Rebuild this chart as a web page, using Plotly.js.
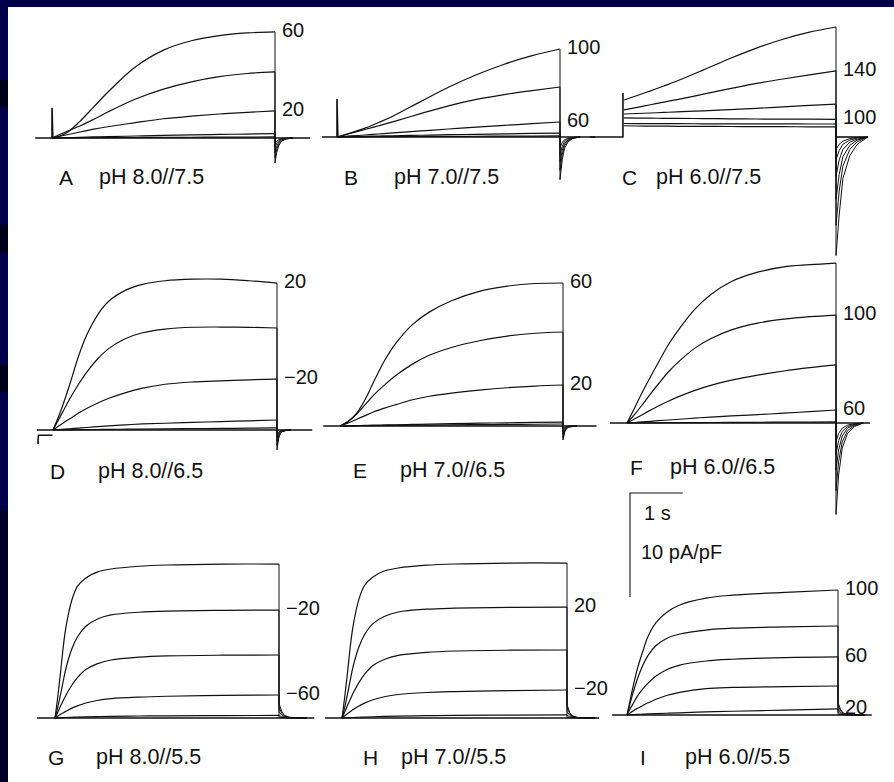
<!DOCTYPE html>
<html><head><meta charset="utf-8">
<script src="https://cdn.plot.ly/plotly-3.0.1.min.js"></script>
<style>html,body{margin:0;padding:0;background:#fff;overflow:hidden}#chart{width:894px;height:782px}</style>
</head><body><div id="chart"></div>
<script>
// ===================== DATA (time in s, current in pA/pF) =====================
const panelLetters = ["A","B","C","D","E","F","G","H","I"];
const panelTitles = ["pH 8.0//7.5","pH 7.0//7.5","pH 6.0//7.5","pH 8.0//6.5","pH 7.0//6.5","pH 6.0//6.5","pH 8.0//5.5","pH 7.0//5.5","pH 6.0//5.5"];

const timeSlow = [0,0.25,0.5,0.75,1,1.5,2,2.5,3,3.5,4];
const timeMed  = [0,0.15,0.3,0.45,0.6,0.8,1,1.3,1.6,2,2.5,3,3.5,4];
const timeFast = [0,0.05,0.1,0.15,0.2,0.3,0.4,0.55,0.75,1,1.5,2,3,4];
const pulseEnd = 4;

// tail time points (s after the end of the pulse)
const tailTimeA = [0,0.03,0.07,0.12,0.2,0.32];
const tailTimeB = [0,0.04,0.08,0.14,0.22,0.36];
const tailTimeC = [0,0.06,0.13,0.26,0.4,0.6];
const tailTimeShort = [0,0.03,0.06,0.1,0.16,0.25];
const tailTimeF = [0,0.05,0.12,0.22,0.35,0.52];
const tailTimeFast = [0,0.05,0.1,0.18,0.3,0.5];

// ---- A  pH 8.0//7.5
const currentA = [
 [0,0.45,1.6,3.0,4.4,6.85,8.45,9.35,9.85,10.1,10.2],
 [0,0.6,1.15,1.8,2.5,3.75,4.7,5.4,5.9,6.2,6.35],
 [0,0.29,0.58,0.85,1.08,1.48,1.85,2.1,2.31,2.47,2.6],
 [0,0.03,0.06,0.1,0.13,0.19,0.25,0.3,0.34,0.38,0.42],
 [0,0.01,0.02,0.03,0.04,0.05,0.06,0.07,0.08,0.09,0.1]];
const tailA = [[-2.4,-1.4,-0.7,-0.3,-0.1,0],[-1.9,-1.1,-0.55,-0.25,-0.08,0],[-1.4,-0.8,-0.4,-0.18,-0.05,0],[-0.9,-0.5,-0.25,-0.1,-0.03,0],[-0.5,-0.3,-0.15,-0.06,-0.02,0]];
const baseTimeA = [-0.3,0,0,0.015,4.63];
const baseCurA  = [0,0,2.9,0,0];
const labelsA = ["60","","20","",""];

// ---- B  pH 7.0//7.5
const currentB = [
 [0,0.4,0.85,1.4,2.0,3.4,4.78,5.98,7.0,7.83,8.46],
 [0,0.36,0.72,1.08,1.45,2.25,3.0,3.62,4.08,4.46,4.81],
 [0,0.1,0.19,0.29,0.39,0.58,0.77,0.95,1.12,1.28,1.44],
 [0,0.03,0.06,0.09,0.12,0.17,0.22,0.26,0.3,0.34,0.38],
 [0,0.01,0.02,0.03,0.04,0.05,0.06,0.07,0.08,0.09,0.1]];
const tailB = [[-4.1,-2.2,-1.1,-0.5,-0.15,0],[-3.2,-1.7,-0.85,-0.4,-0.12,0],[-2.4,-1.3,-0.65,-0.3,-0.1,0],[-1.7,-0.9,-0.45,-0.2,-0.06,0],[-1.0,-0.55,-0.27,-0.12,-0.04,0]];
const baseTimeB = [-0.27,0,0,0.015,4.63];
const baseCurB  = [0,0,3.65,0,0];
const labelsB = ["100","","60","",""];

// ---- C  pH 6.0//7.5
const currentC = [
 [3.56,3.99,4.44,4.9,5.38,6.45,7.55,8.55,9.4,10.08,10.58],
 [2.6,2.85,3.1,3.36,3.6,4.12,4.65,5.16,5.58,5.97,6.35],
 [2.21,2.26,2.31,2.36,2.42,2.52,2.63,2.76,2.9,3.04,3.17],
 [1.83,1.82,1.81,1.8,1.79,1.77,1.75,1.73,1.72,1.71,1.7],
 [1.3,1.29,1.29,1.28,1.28,1.27,1.27,1.26,1.26,1.25,1.25],
 [1.08,1.06,1.05,1.04,1.03,1.02,1.01,1.0,0.99,0.98,0.97]];
const tailC = [[-11.4,-7.5,-4.0,-1.8,-0.7,0],[-8.5,-5.2,-2.8,-1.2,-0.45,0],[-6.0,-3.6,-1.9,-0.8,-0.3,0],[-3.8,-2.2,-1.2,-0.5,-0.2,0],[-2.2,-1.3,-0.7,-0.3,-0.1,0],[-1.2,-0.7,-0.4,-0.15,-0.05,0]];
const baseTimeC = [-0.64,-0.02,-0.02,null,4.0,4.6];
const baseCurC  = [0,0,4.23,null,0,0];
const labelsC = ["","140","","100","",""];

// ---- D  pH 8.0//6.5
const currentD = [
 [0,2.0,4.4,7.0,9.1,11.1,12.4,13.45,14.0,14.35,14.5,14.5,14.35,14.13],
 [0,1.5,3.0,4.35,5.55,6.85,7.85,8.8,9.35,9.7,9.88,9.9,9.87,9.81],
 [0,0.55,1.08,1.6,2.07,2.6,3.05,3.6,4.02,4.4,4.62,4.73,4.82,4.9],
 [0,0.06,0.12,0.18,0.24,0.32,0.4,0.5,0.58,0.65,0.73,0.81,0.88,0.96],
 [0,0.01,0.02,0.03,0.04,0.05,0.06,0.08,0.09,0.11,0.13,0.15,0.18,0.2]];
const tailD = [[-1.9,-0.8,-0.35,-0.15,-0.05,0],[-1.5,-0.65,-0.3,-0.12,-0.04,0],[-1.1,-0.5,-0.22,-0.09,-0.03,0],[-0.7,-0.3,-0.14,-0.06,-0.02,0],[-0.4,-0.18,-0.08,-0.03,-0.01,0]];
const baseTimeD = [-0.29,4.63,null,-0.01,-0.26,-0.27,-0.25];
const baseCurD  = [0,0,null,-0.5,-0.5,-1.3,-1.2];
const labelsD = ["20","","\u221220","",""];

// ---- E  pH 7.0//6.5
const currentE = [
 [0,0.45,1.25,2.55,4.2,6.3,7.95,9.75,10.95,12.05,12.95,13.45,13.7,13.75],
 [0,0.45,1.15,2.05,2.95,3.95,4.85,5.95,6.8,7.55,8.2,8.65,8.92,9.04],
 [0,0.3,0.65,1.0,1.35,1.72,2.05,2.52,2.86,3.16,3.45,3.68,3.84,3.94],
 [0,0.02,0.04,0.06,0.08,0.1,0.12,0.15,0.18,0.22,0.27,0.31,0.35,0.38],
 [0,0.01,0.02,0.03,0.04,0.05,0.06,0.07,0.09,0.11,0.13,0.15,0.17,0.19]];
const tailE = [[-1.35,-0.6,-0.27,-0.11,-0.04,0],[-1.1,-0.5,-0.22,-0.09,-0.03,0],[-0.8,-0.36,-0.16,-0.07,-0.02,0],[-0.5,-0.22,-0.1,-0.04,-0.01,0],[-0.3,-0.13,-0.06,-0.02,-0.01,0]];
const baseTimeE = [-0.3,4.6];
const baseCurE  = [0,0];
const labelsE = ["60","","20","",""];

// ---- F  pH 6.0//6.5
const currentF = [
 [0,1.5,3.02,4.45,5.82,7.6,9.06,10.95,12.34,13.6,14.5,15.02,15.22,15.38],
 [0,0.85,1.8,2.8,3.75,4.95,5.95,7.2,8.1,8.95,9.6,9.98,10.22,10.38],
 [0,0.4,0.82,1.24,1.64,2.12,2.56,3.14,3.62,4.12,4.6,5.0,5.32,5.58],
 [0,0.05,0.11,0.16,0.22,0.29,0.36,0.47,0.57,0.68,0.81,0.94,1.1,1.25],
 [0,0.01,0.01,0.02,0.02,0.03,0.03,0.04,0.05,0.06,0.07,0.08,0.09,0.1]];
const tailF = [[-8.8,-5.0,-2.4,-1.0,-0.35,0],[-6.5,-3.7,-1.8,-0.75,-0.25,0],[-4.5,-2.6,-1.25,-0.5,-0.18,0],[-3.0,-1.7,-0.8,-0.35,-0.12,0],[-1.8,-1.0,-0.5,-0.2,-0.07,0]];
const baseTimeF = [-0.33,4.65];
const baseCurF  = [0,0];
const labelsF = ["","100","","60",""];

// ---- G  pH 8.0//5.5
const currentG = [
 [0,2.07,4.44,6.96,8.88,11.32,12.65,13.47,14.03,14.33,14.59,14.71,14.8,14.8],
 [0,1.04,2.28,3.63,4.88,6.64,7.79,8.82,9.5,9.91,10.17,10.28,10.35,10.38],
 [0,0.55,1.15,1.7,2.24,3.15,3.88,4.67,5.21,5.58,5.85,5.97,6.04,6.06],
 [0,0.18,0.35,0.51,0.66,0.95,1.17,1.44,1.68,1.86,2.01,2.09,2.17,2.21],
 [0,0.01,0.02,0.04,0.05,0.07,0.09,0.11,0.14,0.16,0.19,0.21,0.23,0.25]];
const tailG = [[1.4,0.6,0.25,0.08,0.02,0],[1.0,0.45,0.18,0.06,0.02,0],[0.6,0.27,0.11,0.04,0.01,0],[0.25,0.11,0.05,0.02,0,0],[0.05,0.02,0.01,0,0,0]];
const baseTimeG = [-0.32,4.63];
const baseCurG  = [0,0];
const labelsG = ["","\u221220","","\u221260",""];

// ---- H  pH 7.0//5.5
const currentH = [
 [0,2.09,4.47,7.0,8.94,11.4,12.74,13.56,14.13,14.42,14.69,14.81,14.9,14.9],
 [0,1.07,2.35,3.73,5.01,6.83,8.0,9.07,9.76,10.19,10.46,10.56,10.64,10.67],
 [0,0.59,1.24,1.83,2.42,3.4,4.19,5.04,5.62,6.02,6.31,6.44,6.52,6.54],
 [0,0.22,0.43,0.62,0.81,1.16,1.43,1.75,2.04,2.26,2.45,2.54,2.64,2.69],
 [0,0.01,0.02,0.04,0.05,0.07,0.09,0.12,0.15,0.18,0.22,0.25,0.28,0.3]];
const tailH = [[1.3,0.5,0.2,0.06,0.02,0],[1.0,0.42,0.16,0.05,0.01,0],[0.6,0.26,0.1,0.03,0.01,0],[0.26,0.11,0.05,0.02,0,0],[0.05,0.02,0.01,0,0,0]];
const baseTimeH = [-0.3,4.57];
const baseCurH  = [0,0];
const labelsH = ["","20","","\u221220",""];

// ---- I  pH 6.0//5.5
const currentI = [
 [0,1.2,2.4,3.49,4.51,6.13,7.57,8.89,9.86,10.58,11.24,11.52,11.8,12.02],
 [0,0.94,1.88,2.74,3.51,4.79,5.74,6.68,7.36,7.79,8.17,8.35,8.47,8.56],
 [0,0.5,0.95,1.4,1.84,2.51,3.07,3.74,4.35,4.8,5.19,5.36,5.52,5.58],
 [0,0.17,0.33,0.5,0.64,0.92,1.17,1.51,1.87,2.18,2.54,2.65,2.73,2.79],
 [0,0.02,0.03,0.05,0.06,0.08,0.1,0.13,0.17,0.21,0.3,0.36,0.47,0.58]];
const tailI = [[1.2,0.5,0.2,0.06,0.02,0],[0.9,0.38,0.15,0.05,0.01,0],[0.55,0.23,0.09,0.03,0.01,0],[0.28,0.12,0.05,0.02,0,0],[0.06,0.03,0.01,0,0,0]];
const baseTimeI = [-0.28,4.64];
const baseCurI  = [0,0];
const labelsI = ["100","","60","","20"];

// scale bar
const scaleBarTime = 1;      // s
const scaleBarCurrent = 10;  // pA/pF
const scaleBarTexts = ["1 s","10 pA/pF"];

// ===================== LAYOUT (pixel placement) =====================
const W = 894, H = 782, YS = 10.4; // px per pA/pF
const panels = [
 {t:timeSlow, cur:currentA, tail:tailA, tt:tailTimeA, bt:baseTimeA, bc:baseCurA, lab:labelsA, x0:52,  pxs:55.75, base:138, cap:[66,97,177]},
 {t:timeSlow, cur:currentB, tail:tailB, tt:tailTimeB, bt:baseTimeB, bc:baseCurB, lab:labelsB, x0:337, pxs:55.75, base:137, cap:[351,392,177]},
 {t:timeSlow, cur:currentC, tail:tailC, tt:tailTimeC, bt:baseTimeC, bc:baseCurC, lab:labelsC, x0:624, pxs:53,    base:137, cap:[629,654,177]},
 {t:timeMed,  cur:currentD, tail:tailD, tt:tailTimeShort, bt:baseTimeD, bc:baseCurD, lab:labelsD, x0:53,  pxs:56,    base:430, cap:[58,96,471]},
 {t:timeMed,  cur:currentE, tail:tailE, tt:tailTimeShort, bt:baseTimeE, bc:baseCurE, lab:labelsE, x0:340, pxs:55.75, base:426, cap:[360,398,470]},
 {t:timeMed,  cur:currentF, tail:tailF, tt:tailTimeF, bt:baseTimeF, bc:baseCurF, lab:labelsF, x0:627, pxs:52.25, base:423, cap:[636,668,467]},
 {t:timeFast, cur:currentG, tail:tailG, tt:tailTimeFast, bt:baseTimeG, bc:baseCurG, lab:labelsG, x0:55,  pxs:56,    base:718, cap:[56,94,757]},
 {t:timeFast, cur:currentH, tail:tailH, tt:tailTimeFast, bt:baseTimeH, bc:baseCurH, lab:labelsH, x0:342, pxs:56.25, base:718, cap:[370,399,757]},
 {t:timeFast, cur:currentI, tail:tailI, tt:tailTimeFast, bt:baseTimeI, bc:baseCurI, lab:labelsI, x0:627, pxs:52.75, base:715, cap:[643,683,757]}
];
const INK = '#111111';
const FONT = 'Liberation Sans, Arial, Helvetica, sans-serif';
const px = (x)=> x / W;
const py = (y)=> 1 - y / H;

const traces = [], annotations = [];
const layout = {
  width: W, height: H, margin:{l:0,r:0,t:0,b:0},
  paper_bgcolor:'#ffffff', plot_bgcolor:'rgba(0,0,0,0)',
  showlegend:false, shapes:[], annotations
};

panels.forEach((p, idx) => {
  const n = idx + 1, sx = n === 1 ? '' : String(n);
  const xa = 'x' + sx, ya = 'y' + sx;
  layout['xaxis' + sx] = {domain:[0,1], range:[-p.x0/p.pxs, (W - p.x0)/p.pxs], visible:false, fixedrange:true, anchor:ya};
  layout['yaxis' + sx] = {domain:[0,1], range:[(p.base - H)/YS, p.base/YS], visible:false, fixedrange:true, anchor:xa};
  // holding baseline
  traces.push({x:p.bt, y:p.bc, xaxis:xa, yaxis:ya, mode:'lines', line:{color:INK, width:1.6}, hoverinfo:'skip'});
  p.cur.forEach((c, k) => {
    // activation during the pulse
    traces.push({x:p.t, y:c, xaxis:xa, yaxis:ya, mode:'lines', line:{color:INK, width:1.2, shape:'spline', smoothing:1}, hoverinfo:'skip'});
    // step back and tail current
    const tx = [pulseEnd].concat(p.tt.map(v => pulseEnd + v));
    const ty = [c[c.length-1]].concat(p.tail[k]);
    traces.push({x:tx, y:ty, xaxis:xa, yaxis:ya, mode:'lines', line:{color:INK, width:1.0}, hoverinfo:'skip'});
    // voltage label
    if (p.lab[k]) {
      annotations.push({xref:xa, yref:ya, x:pulseEnd, y:c[c.length-1], text:p.lab[k], showarrow:false,
        xanchor:'left', yanchor:'middle', xshift:5, yshift:2, font:{family:FONT, size:20, color:INK}});
    }
  });
  // caption
  annotations.push({xref:'paper', yref:'paper', x:px(p.cap[0]), y:py(p.cap[2]), text:panelLetters[idx], showarrow:false,
    xanchor:'center', yanchor:'middle', font:{family:FONT, size:21, color:INK}});
  annotations.push({xref:'paper', yref:'paper', x:px(p.cap[1]), y:py(p.cap[2]), text:panelTitles[idx], showarrow:false,
    xanchor:'left', yanchor:'middle', font:{family:FONT, size:21.5, color:INK}});
});

// scale bar on panel I axes, corner at pixel (630, 493)
(function(){
  const p = panels[8];
  const t0 = (630 - p.x0) / p.pxs, i0 = (p.base - 493) / YS;
  traces.push({x:[t0, t0, t0 + scaleBarTime], y:[i0 - scaleBarCurrent, i0, i0], xaxis:'x9', yaxis:'y9',
    mode:'lines', line:{color:INK, width:1.1}, hoverinfo:'skip'});
  annotations.push({xref:'paper', yref:'paper', x:px(642), y:py(513), text:scaleBarTexts[0], showarrow:false,
    xanchor:'left', yanchor:'middle', font:{family:FONT, size:20, color:INK}});
  annotations.push({xref:'paper', yref:'paper', x:px(639), y:py(552), text:scaleBarTexts[1], showarrow:false,
    xanchor:'left', yanchor:'middle', font:{family:FONT, size:20, color:INK}});
})();

// navy slide frame
const NAVY = '#00004a', DARK = '#000018';
function rect(x0,y0,x1,y1,c){ layout.shapes.push({type:'rect', xref:'paper', yref:'paper', x0:px(x0), x1:px(x1), y0:py(y1), y1:py(y0), fillcolor:c, line:{width:0}, layer:'above'}); }
rect(0,0,W,7,NAVY);
rect(0,0,8,H,NAVY);
rect(0,80,8,107,DARK);
rect(0,225,8,252,DARK);
rect(0,365,8,392,DARK);
rect(0,510,8,H,'#00002a');

Plotly.newPlot('chart', traces, layout, {staticPlot:true, displayModeBar:false});
</script>
</body></html>
